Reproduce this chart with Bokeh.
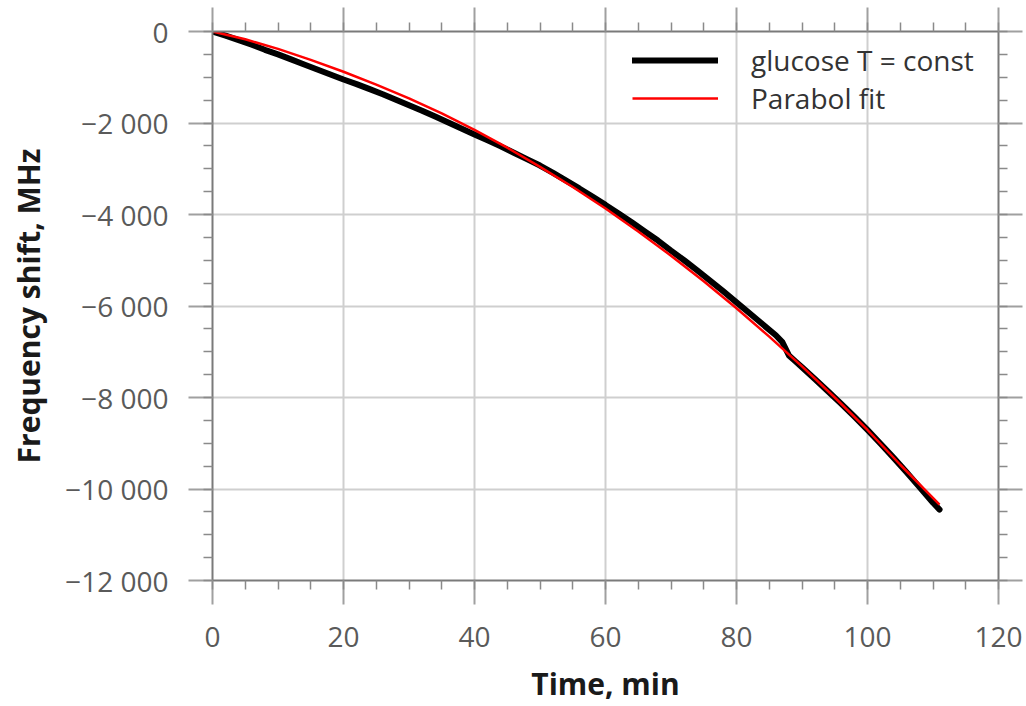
from bokeh.plotting import figure
from bokeh.models import FixedTicker, Legend, LegendItem, LinearAxis, Range1d
from bokeh.embed import file_html
from bokeh.resources import INLINE

# ---- data ----
time_meas = [0, 2, 4, 6, 8, 10, 12, 14, 16, 18, 20, 22, 24, 26, 28, 30, 32, 34, 36, 38,
             40, 42, 44, 46, 48, 50, 52, 54, 56, 58, 60, 62, 64, 66, 68, 70, 72, 74, 76, 78,
             80, 82, 84, 86, 87, 88, 89, 90, 92, 94, 96, 98, 100, 102, 104, 106, 108, 110, 111]
shift_meas = [0, -90, -190, -290, -400, -500, -610, -720, -830, -940, -1050, -1150, -1260,
              -1370, -1490, -1610, -1730, -1860, -1990, -2120, -2250, -2380, -2510, -2650,
              -2790, -2930, -3090, -3260, -3430, -3610, -3790, -3980, -4170, -4370, -4570,
              -4790, -5000, -5220, -5450, -5680, -5920, -6160, -6400, -6640, -6790, -7080,
              -7210, -7340, -7600, -7870, -8140, -8420, -8710, -9010, -9320, -9640, -9970,
              -10300, -10450]

time_fit = [0, 5, 10, 15, 20, 25, 30, 35, 40, 45, 50, 55, 60, 65, 70, 75, 80, 85, 90, 95,
            100, 105, 111]
shift_fit = [0, -170, -380, -620, -880, -1160, -1460, -1790, -2150, -2540, -2960, -3400,
             -3870, -4370, -4900, -5460, -6050, -6670, -7320, -8000, -8710, -9470, -10340]

x_major = [0, 20, 40, 60, 80, 100, 120]
x_minor = [0, 5, 10, 15, 20, 25, 30, 35, 40, 45, 50, 55, 60, 65, 70, 75, 80, 85, 90, 95,
           100, 105, 110, 115, 120]
y_major = [0, -2000, -4000, -6000, -8000, -10000, -12000]
y_minor = [0, -500, -1000, -1500, -2000, -2500, -3000, -3500, -4000, -4500, -5000, -5500,
           -6000, -6500, -7000, -7500, -8000, -8500, -9000, -9500, -10000, -10500, -11000,
           -11500, -12000]
y_labels = ["0", "\u22122 000", "\u22124 000", "\u22126 000", "\u22128 000",
            "\u221210 000", "\u221212 000"]
x_labels = ["0", "20", "40", "60", "80", "100", "120"]

series_names = ["glucose T = const", "Parabol fit"]

FONT = "Open Sans"
TICK_SIZE = "28px"
TITLE_SIZE = "30px"

p = figure(width=1026, height=706, output_backend="svg", toolbar_location=None,
           x_range=Range1d(0, 120), y_range=Range1d(-12000, 0),
           x_axis_location=None, y_axis_location=None,
           min_border_left=212, min_border_right=28, min_border_top=31,
           min_border_bottom=124)
p.outline_line_color = None
p.background_fill_color = "white"
p.border_fill_color = "white"


def style_axis(ax, major, minor, show_labels):
    ax.ticker = FixedTicker(ticks=major, minor_ticks=minor)
    ax.axis_line_color = "#7a7a7a"
    ax.axis_line_width = 2
    ax.major_tick_line_color = "#a0a0a0"
    ax.major_tick_line_width = 2
    ax.major_tick_in = 0
    ax.major_tick_out = 24
    ax.minor_tick_line_color = "#8a8a8a"
    ax.minor_tick_line_width = 1.5
    ax.minor_tick_in = 0
    ax.minor_tick_out = 9
    ax.major_label_text_font = FONT
    ax.major_label_text_color = "#5a5a5a"
    if not show_labels:
        ax.major_label_overrides = {v: "" for v in major}
        ax.major_label_text_font_size = "1px"
        ax.major_label_standoff = 0


xb = LinearAxis(axis_label="Time, min")
style_axis(xb, x_major, x_minor, True)
xb.major_label_overrides = {v: s for v, s in zip(x_major, x_labels)}
xb.major_label_text_font_size = TICK_SIZE
xb.major_label_standoff = 22
xb.axis_label_standoff = 13
p.add_layout(xb, "below")

yl = LinearAxis(axis_label="Frequency shift, MHz")
style_axis(yl, y_major, y_minor, True)
yl.major_label_overrides = {v: s for v, s in zip(y_major, y_labels)}
yl.major_label_text_font_size = TICK_SIZE
yl.major_label_standoff = 20
yl.axis_label_standoff = 13
p.add_layout(yl, "left")

for ax in (xb, yl):
    ax.axis_label_text_font = FONT
    ax.axis_label_text_font_size = TITLE_SIZE
    ax.axis_label_text_font_style = "bold"
    ax.axis_label_text_color = "#1a1a1a"

xt = LinearAxis()
style_axis(xt, x_major, x_minor, False)
p.add_layout(xt, "above")

yr = LinearAxis()
style_axis(yr, y_major, y_minor, False)
p.add_layout(yr, "right")

p.xgrid.ticker = FixedTicker(ticks=x_major)
p.ygrid.ticker = FixedTicker(ticks=y_major)
for g in (p.xgrid, p.ygrid):
    g.grid_line_color = "#cfcfcf"
    g.grid_line_width = 2

r_meas = p.line(time_meas, shift_meas, line_color="black", line_width=6,
                line_join="round", line_cap="round")
r_fit = p.line(time_fit, shift_fit, line_color="#ff0000", line_width=2.5)

legend = Legend(items=[LegendItem(label=series_names[0], renderers=[r_meas]),
                       LegendItem(label=series_names[1], renderers=[r_fit])],
                location=(420, 463))
legend.glyph_width = 86
legend.glyph_height = 38
legend.label_height = 38
legend.label_standoff = 33
legend.spacing = 0
legend.padding = 10
legend.margin = 0
legend.border_line_color = None
legend.background_fill_alpha = 0
legend.label_text_font = FONT
legend.label_text_font_size = "28px"
legend.label_text_color = "#333333"
p.add_layout(legend, "center")

open("out.html", "w").write(file_html(p, INLINE))
